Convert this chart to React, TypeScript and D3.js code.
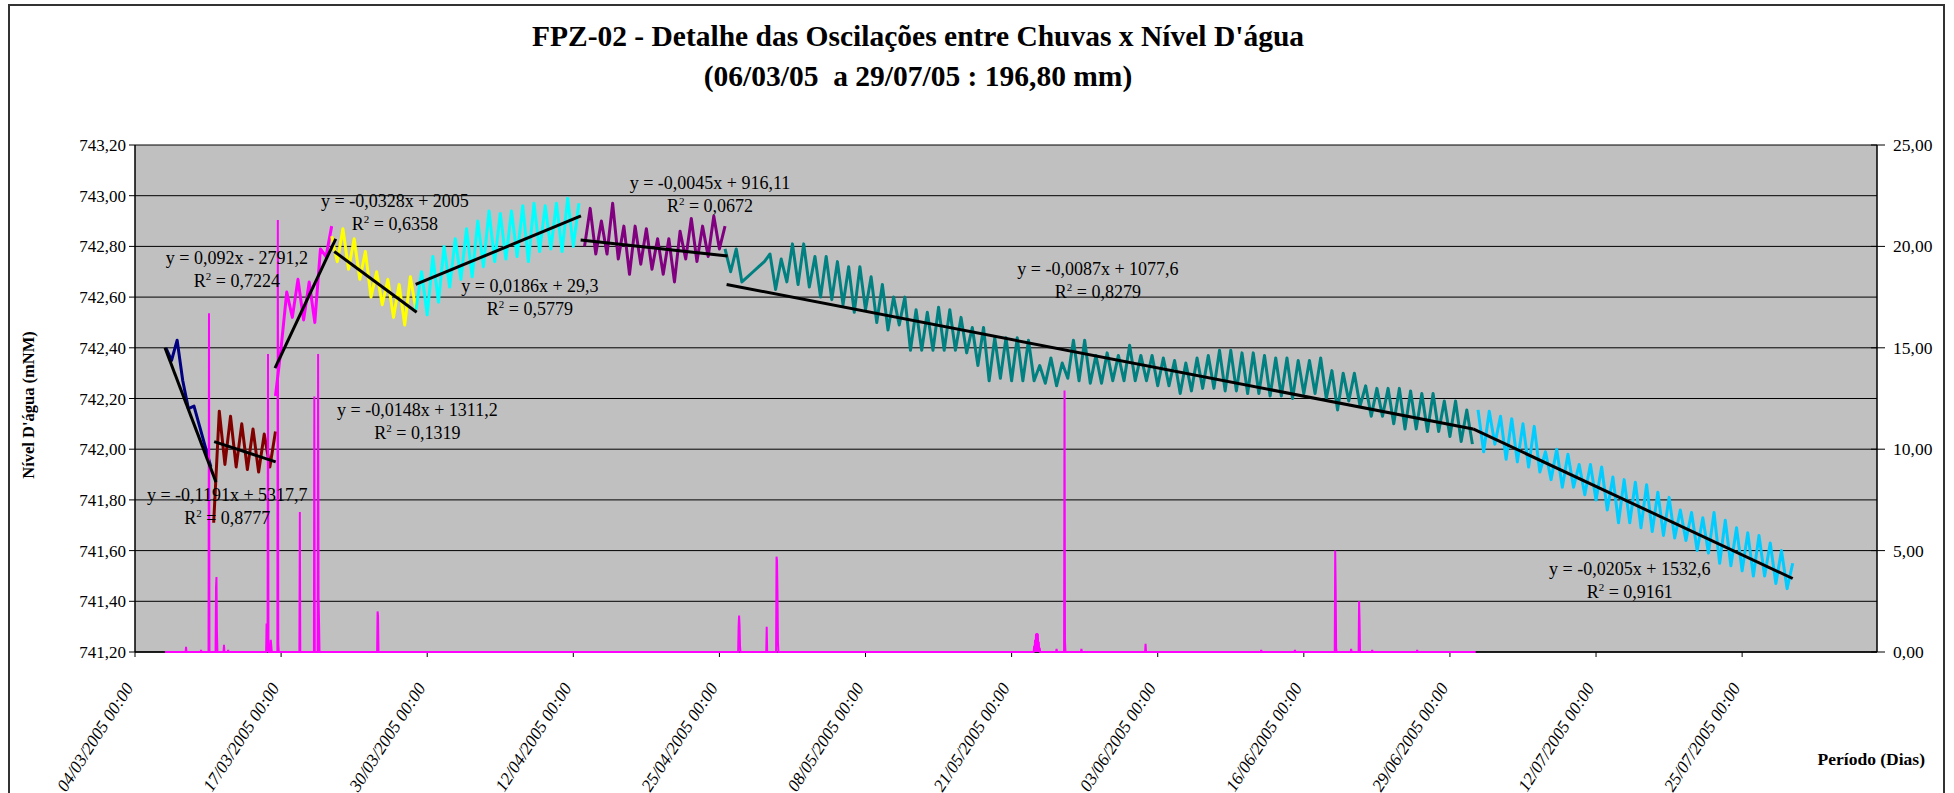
import React, { useRef, useEffect } from 'react';
import * as d3 from 'd3';

// Nível d'água (mNM): one reading every 12 hours from each series' start
const navyStart = '2005-03-06 18:00';
const navyLevel = [742.40, 742.35, 742.43, 742.27, 742.16, 742.17, 742.09, 742.01, 741.93];

const redStart = '2005-03-11 00:00';
const redLevel = [741.71, 742.15, 741.94, 742.13, 741.93, 742.10, 741.92, 742.08, 741.91, 742.06, 741.93, 742.07];

const magentaStart = '2005-03-16 12:00';
const magentaLevel = [742.21, 742.40, 742.62, 742.52, 742.67, 742.51, 742.66, 742.50, 742.79, 742.76, 742.88];

const yellowStart = '2005-03-21 12:00';
const yellowLevel = [742.84, 742.74, 742.87, 742.71, 742.83, 742.67, 742.78, 742.60, 742.70, 742.57, 742.67, 742.52,
  742.65, 742.49, 742.68, 742.55];

const cyanStart = '2005-03-29 00:00';
const cyanLevel = [742.55, 742.70, 742.53, 742.76, 742.58, 742.80, 742.64, 742.83, 742.67, 742.87, 742.68, 742.90,
  742.72, 742.94, 742.74, 742.93, 742.75, 742.94, 742.76, 742.96, 742.74, 742.97, 742.78, 742.96, 742.79, 742.97,
  742.78, 742.99, 742.80, 742.97];

const purpleStart = '2005-04-13 00:00';
const purpleLevel = [742.80, 742.95, 742.77, 742.90, 742.77, 742.97, 742.75, 742.88, 742.69, 742.88, 742.73, 742.87,
  742.71, 742.83, 742.69, 742.83, 742.66, 742.86, 742.75, 742.91, 742.74, 742.88, 742.76, 742.92, 742.79, 742.88];

const tealStart = '2005-04-25 12:00';
const tealLevel = [742.79, 742.70, 742.79, 742.66, 742.68, 742.70, 742.72, 742.74, 742.77, 742.63, 742.75, 742.66,
  742.81, 742.65, 742.81, 742.64, 742.76, 742.60, 742.76, 742.59, 742.74, 742.57, 742.72, 742.54, 742.72, 742.55,
  742.68, 742.50, 742.65, 742.47, 742.60, 742.49, 742.60, 742.39, 742.55, 742.39, 742.54, 742.39, 742.56, 742.39,
  742.55, 742.39, 742.52, 742.38, 742.48, 742.33, 742.48, 742.27, 742.44, 742.28, 742.44, 742.27, 742.44, 742.27,
  742.43, 742.27, 742.33, 742.26, 742.36, 742.25, 742.34, 742.28, 742.43, 742.27, 742.43, 742.26, 742.37, 742.26,
  742.38, 742.27, 742.37, 742.27, 742.41, 742.27, 742.37, 742.27, 742.37, 742.25, 742.36, 742.25, 742.35, 742.22,
  742.34, 742.23, 742.36, 742.24, 742.37, 742.24, 742.39, 742.23, 742.39, 742.23, 742.38, 742.22, 742.38, 742.22,
  742.37, 742.21, 742.36, 742.21, 742.36, 742.20, 742.35, 742.22, 742.35, 742.22, 742.36, 742.20, 742.31, 742.155,
  742.30, 742.19, 742.30, 742.17, 742.25, 742.13, 742.24, 742.13, 742.24, 742.10, 742.24, 742.08, 742.23, 742.08,
  742.22, 742.07, 742.22, 742.07, 742.19, 742.05, 742.19, 742.03, 742.155, 742.02];

const skyStart = '2005-07-01 12:00';
const skyLevel = [742.155, 741.99, 742.15, 742.02, 742.13, 741.96, 742.12, 741.95, 742.10, 741.93, 742.09, 741.91,
  741.99, 741.88, 742.00, 741.85, 741.98, 741.85, 741.94, 741.82, 741.94, 741.80, 741.93, 741.76, 741.89, 741.71,
  741.88, 741.71, 741.87, 741.69, 741.86, 741.675, 741.83, 741.66, 741.81, 741.65, 741.76, 741.64, 741.75, 741.60,
  741.73, 741.59, 741.75, 741.55, 741.72, 741.54, 741.69, 741.52, 741.67, 741.50, 741.66, 741.50, 741.63, 741.47,
  741.60, 741.45, 741.55];

const levelStarts = [navyStart, redStart, magentaStart, yellowStart, cyanStart, purpleStart, tealStart, skyStart];
const levelValues = [navyLevel, redLevel, magentaLevel, yellowLevel, cyanLevel, purpleLevel, tealLevel, skyLevel];
const levelColors = ['#000080', '#800000', '#ff00ff', '#ffff00', '#00ffff', '#800080', '#008080', '#00ccff'];

// Chuva (mm), hourly; hours not listed are 0
const rainStart = '2005-03-06 16:00';
const rainEnd = '2005-07-01 07:00';
const rainHours: [string, number][] = [
  ['2005-03-08 13:00', 0.25], ['2005-03-09 21:00', 0.1], ['2005-03-10 14:00', 16.7],
  ['2005-03-11 05:00', 3.2], ['2005-03-11 06:00', 3.7], ['2005-03-11 07:00', 1.0], ['2005-03-11 22:00', 0.35],
  ['2005-03-12 07:00', 0.1], ['2005-03-15 17:00', 1.4], ['2005-03-15 18:00', 0.8], ['2005-03-15 20:00', 14.7],
  ['2005-03-15 21:00', 0.6], ['2005-03-16 02:00', 0.6], ['2005-03-16 03:00', 0.3], ['2005-03-16 17:00', 21.3],
  ['2005-03-16 18:00', 0.4], ['2005-03-18 16:00', 6.9], ['2005-03-19 23:00', 12.6], ['2005-03-20 07:00', 14.7],
  ['2005-03-20 08:00', 2.7], ['2005-03-20 09:00', 1.5], ['2005-03-25 14:00', 2.0], ['2005-03-25 15:00', 1.8],
  ['2005-04-26 17:00', 1.25], ['2005-04-26 18:00', 1.8], ['2005-04-26 19:00', 1.3], ['2005-04-26 20:00', 0.3],
  ['2005-04-29 05:00', 1.25], ['2005-04-30 02:00', 4.7], ['2005-04-30 03:00', 4.5], ['2005-04-30 04:00', 2.9],
  ['2005-04-30 05:00', 0.5], ['2005-05-23 00:00', 0.3], ['2005-05-23 02:00', 0.6], ['2005-05-23 04:00', 0.9],
  ['2005-05-23 06:00', 0.93], ['2005-05-23 08:00', 0.9], ['2005-05-23 10:00', 0.5], ['2005-05-23 12:00', 0.2],
  ['2005-05-25 00:00', 0.15], ['2005-05-25 17:00', 12.9], ['2005-05-25 18:00', 0.5], ['2005-05-27 05:00', 0.15],
  ['2005-06-01 22:00', 0.4], ['2005-06-12 05:00', 0.1], ['2005-06-15 05:00', 0.1], ['2005-06-18 19:00', 5.0],
  ['2005-06-18 20:00', 3.1], ['2005-06-18 21:00', 0.2], ['2005-06-20 05:00', 0.15], ['2005-06-20 22:00', 2.5],
  ['2005-06-20 23:00', 1.5], ['2005-06-22 02:00', 0.1], ['2005-06-26 02:00', 0.1],
];

// linear trendlines, one per level series
const trendFrom: [string, number][] = [
  ['2005-03-06 16:00', 742.40], ['2005-03-11 01:00', 742.03], ['2005-03-16 11:00', 742.32],
  ['2005-03-21 17:30', 742.78], ['2005-03-28 23:20', 742.65], ['2005-04-12 15:40', 742.825],
  ['2005-04-25 15:20', 742.65], ['2005-07-01 01:30', 742.08],
];
const trendTo: [string, number][] = [
  ['2005-03-11 05:00', 741.87], ['2005-03-16 12:30', 741.95], ['2005-03-21 20:40', 742.83],
  ['2005-03-29 01:30', 742.54], ['2005-04-12 16:20', 742.92], ['2005-04-25 17:30', 742.762],
  ['2005-07-01 01:30', 742.08], ['2005-07-29 12:00', 741.49],
];
const trendEquation = [
  'y = -0,1191x + 5317,7', 'y = -0,0148x + 1311,2', 'y = 0,092x - 2791,2', 'y = -0,0328x + 2005',
  'y = 0,0186x + 29,3', 'y = -0,0045x + 916,11', 'y = -0,0087x + 1077,6', 'y = -0,0205x + 1532,6',
];
const trendR2 = ['0,8777', '0,1319', '0,7224', '0,6358', '0,5779', '0,0672', '0,8279', '0,9161'];
const trendLabelAt: [string, number][] = [
  ['2005-03-12 05:00', 741.82], ['2005-03-29 03:00', 742.155], ['2005-03-13 01:40', 742.754],
  ['2005-03-27 03:00', 742.979], ['2005-04-08 03:20', 742.644], ['2005-04-24 03:50', 743.05],
  ['2005-05-28 16:20', 742.711], ['2005-07-15 00:00', 741.527],
];

const W = 1954;
const H = 793;
const FONT = "'Liberation Serif', 'Times New Roman', serif";

const App: React.FC = () => {
  const ref = useRef<SVGSVGElement>(null);

  useEffect(() => {
    if (!ref.current) return;
    const svg = d3.select(ref.current);
    svg.selectAll('*').remove();

    const parse = d3.timeParse('%Y-%m-%d %H:%M');
    const P = (s: string) => parse(s) as Date;
    const left = 135, right = 1877, top = 145, bottom = 652;

    const t0 = P('2005-03-04 00:00');
    const x = d3.scaleTime().domain([t0, d3.timeDay.offset(t0, 155)]).range([left, right]);
    const y = d3.scaleLinear().domain([741.2, 743.2]).range([bottom, top]);
    const yRain = d3.scaleLinear().domain([0, 25]).range([bottom, top]);
    const br = d3.formatLocale({ decimal: ',', thousands: '.', grouping: [3], currency: ['', ''] }).format('.2f');
    const fmtDate = d3.timeFormat('%d/%m/%Y %H:%M');

    // chart frame
    svg.append('rect')
      .attr('x', 9).attr('y', 5).attr('width', 1935).attr('height', 820)
      .attr('fill', '#fff').attr('stroke', '#333').attr('stroke-width', 2);

    // plot area
    svg.append('rect')
      .attr('x', left).attr('y', top).attr('width', right - left).attr('height', bottom - top)
      .attr('fill', '#c0c0c0');

    const yTicks = y.ticks(10);
    svg.append('g').selectAll('line').data(yTicks).enter().append('line')
      .attr('x1', left - 6).attr('x2', right)
      .attr('y1', d => y(d)).attr('y2', d => y(d))
      .attr('stroke', '#000').attr('stroke-width', 1);

    // axes lines
    svg.append('line').attr('x1', left).attr('x2', left).attr('y1', top).attr('y2', bottom)
      .attr('stroke', '#000').attr('stroke-width', 1.5);
    svg.append('line').attr('x1', right).attr('x2', right).attr('y1', top).attr('y2', bottom)
      .attr('stroke', '#000').attr('stroke-width', 1.5);
    svg.append('line').attr('x1', left).attr('x2', right).attr('y1', bottom).attr('y2', bottom)
      .attr('stroke', '#000').attr('stroke-width', 1.5);

    const rTicks = yRain.ticks(5);
    svg.append('g').selectAll('line').data(rTicks).enter().append('line')
      .attr('x1', right - 6).attr('x2', right + 8)
      .attr('y1', d => yRain(d)).attr('y2', d => yRain(d))
      .attr('stroke', '#000').attr('stroke-width', 1);

    const xTicks = d3.range(0, 12).map(i => d3.timeDay.offset(t0, 13 * i));
    svg.append('g').selectAll('line').data(xTicks).enter().append('line')
      .attr('x1', d => x(d)).attr('x2', d => x(d))
      .attr('y1', bottom).attr('y2', bottom + 5)
      .attr('stroke', '#000').attr('stroke-width', 1);

    // level series
    const levelLine = d3.line<[Date, number]>()
      .x(d => x(d[0])).y(d => y(d[1]));
    levelValues.forEach((vals, k) => {
      const start = P(levelStarts[k]);
      const pts = vals.map((v, i) => [d3.timeHour.offset(start, 12 * i), v] as [Date, number]);
      svg.append('path')
        .attr('d', levelLine(pts))
        .attr('fill', 'none')
        .attr('stroke', levelColors[k])
        .attr('stroke-width', 3)
        .attr('stroke-linejoin', 'round');
    });

    // rainfall (secondary axis)
    const rainMap = new Map(rainHours.map(([t, v]) => [+P(t), v]));
    const rainPts = d3.timeHour.range(P(rainStart), d3.timeHour.offset(P(rainEnd), 1))
      .map(t => [t, rainMap.get(+t) ?? 0] as [Date, number]);
    const rainLine = d3.line<[Date, number]>().x(d => x(d[0])).y(d => yRain(d[1]));
    svg.append('path')
      .attr('d', rainLine(rainPts))
      .attr('fill', 'none')
      .attr('stroke', '#ff00ff')
      .attr('stroke-width', 2);

    // trendlines
    trendFrom.forEach((f, k) => {
      const tTo = trendTo[k];
      svg.append('line')
        .attr('x1', x(P(f[0]))).attr('y1', y(f[1]))
        .attr('x2', x(P(tTo[0]))).attr('y2', y(tTo[1]))
        .attr('stroke', '#000').attr('stroke-width', 3);
    });

    // trend labels
    trendLabelAt.forEach((p, k) => {
      const cx = x(P(p[0]));
      const cy = y(p[1]);
      const g = svg.append('g').attr('font-family', FONT).attr('font-size', 18).attr('fill', '#000');
      g.append('text').attr('x', cx).attr('y', cy + 6).attr('text-anchor', 'middle').text(trendEquation[k]);
      const t2 = g.append('text').attr('x', cx).attr('y', cy + 29).attr('text-anchor', 'middle');
      t2.append('tspan').text('R');
      t2.append('tspan').attr('font-size', 11).attr('dy', -7).text('2');
      t2.append('tspan').attr('dy', 7).text(' = ' + trendR2[k]);
    });

    // tick labels
    svg.append('g').selectAll('text').data(yTicks).enter().append('text')
      .attr('x', left - 9).attr('y', d => y(d) + 6)
      .attr('text-anchor', 'end')
      .attr('font-family', FONT).attr('font-size', 17)
      .text(d => br(d));

    svg.append('g').selectAll('text').data(rTicks).enter().append('text')
      .attr('x', right + 16).attr('y', d => yRain(d) + 6)
      .attr('text-anchor', 'start')
      .attr('font-family', FONT).attr('font-size', 17.5)
      .text(d => br(d));

    svg.append('g').selectAll('text').data(xTicks).enter().append('text')
      .attr('transform', d => `translate(${x(d) - 1},${bottom + 36}) rotate(-57)`)
      .attr('text-anchor', 'end')
      .attr('font-family', FONT).attr('font-size', 17.5).attr('font-style', 'italic')
      .text(d => fmtDate(d));

    // titles
    const title = svg.append('g').attr('font-family', FONT).attr('font-weight', 'bold')
      .attr('font-size', 29.5).attr('text-anchor', 'middle');
    title.append('text').attr('x', 918).attr('y', 46)
      .text("FPZ-02 - Detalhe das Oscilações entre Chuvas x Nível D'água");
    title.append('text').attr('x', 918).attr('y', 86).attr('xml:space', 'preserve')
      .text('(06/03/05  a 29/07/05 : 196,80 mm)');

    svg.append('text')
      .attr('transform', `translate(34,405) rotate(-90)`)
      .attr('text-anchor', 'middle')
      .attr('font-family', FONT).attr('font-weight', 'bold').attr('font-size', 16.5)
      .text("Nível D'água (mNM)");

    svg.append('text')
      .attr('x', 1925).attr('y', 765)
      .attr('text-anchor', 'end')
      .attr('font-family', FONT).attr('font-weight', 'bold').attr('font-size', 17.5)
      .text('Período (Dias)');
  }, []);

  return (
    <svg ref={ref} width={W} height={H}
      style={{ position: 'absolute', left: 0, top: 0, background: '#fff' }} />
  );
};

export default App;
